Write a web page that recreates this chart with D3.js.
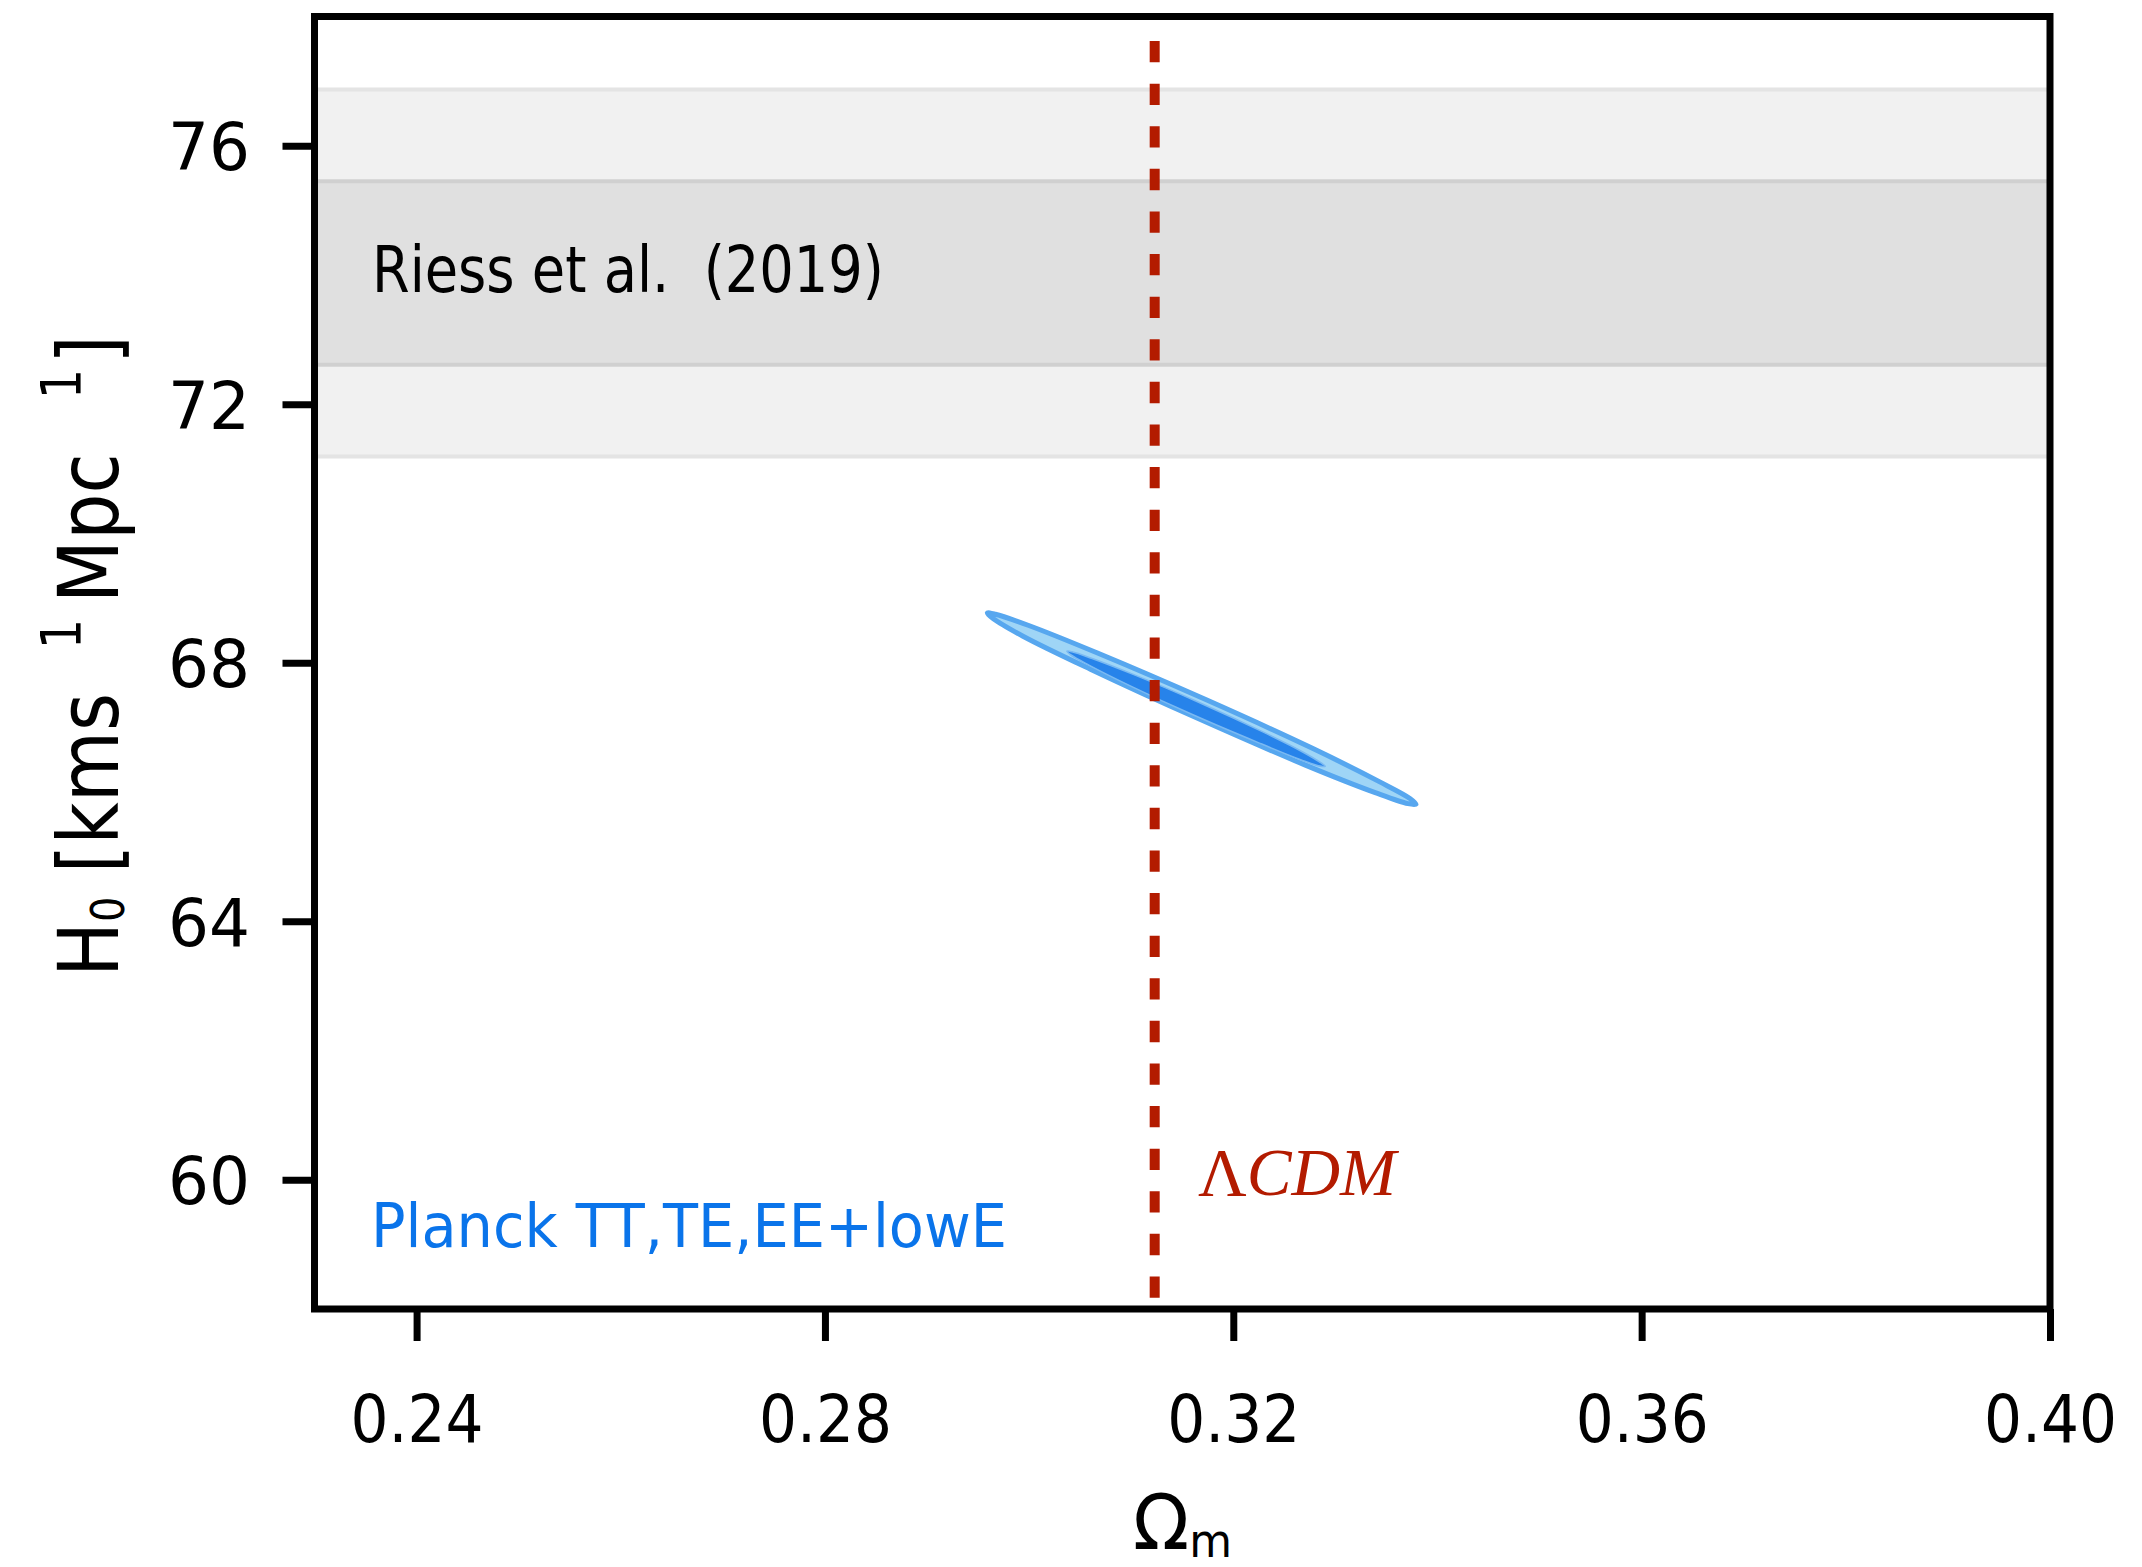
<!DOCTYPE html>
<html>
<head>
<meta charset="utf-8">
<script src="https://cdn.jsdelivr.net/npm/d3@7"></script>
<style>
  body { margin: 0; background: #fff; }
  svg { display: block; }
</style>
</head>
<body>
<svg id="chart" width="2142" height="1567"></svg>
<script>
// Axis ranges and tick values
const omegaDomain = [0.23, 0.40];
const h0Domain = [58, 78];
const omegaTicks = [0.24, 0.28, 0.32, 0.36, 0.40];
const h0Ticks = [60, 64, 68, 72, 76];

// Local distance-ladder measurement (mean and 1-sigma)
const riessMean = 74.03;
const riessSigma = 1.42;
const riessLabel = "Riess et al.  (2019)";

// CMB posterior contours in the (Ωm, H0) plane: 2-sigma (outer) and 1-sigma (inner) outlines
const planckOuterOmega = [0.3379, 0.3371, 0.3339, 0.3270, 0.3165, 0.3060, 0.2994, 0.2965,
                          0.2959, 0.2967, 0.2999, 0.3067, 0.3173, 0.3277, 0.3343, 0.3373];
const planckOuterH0    = [65.81, 65.82, 65.99, 66.42, 67.14, 67.90, 68.41, 68.68,
                          68.77, 68.75, 68.58, 68.15, 67.43, 66.68, 66.16, 65.90];
const planckInnerOmega = [0.3290, 0.3285, 0.3266, 0.3225, 0.3161, 0.3098, 0.3059, 0.3041,
                          0.3037, 0.3042, 0.3061, 0.3102, 0.3166, 0.3229, 0.3268, 0.3286];
const planckInnerH0    = [66.40, 66.40, 66.50, 66.76, 67.19, 67.65, 67.96, 68.12,
                          68.18, 68.17, 68.07, 67.82, 67.39, 66.93, 66.62, 66.45];
const planckLabel = "Planck TT,TE,EE+lowE";

// ΛCDM fiducial matter density
const lcdmOmega = 0.3123;
const lcdmH0Span = [77.62, 58.15];

// ---------------------------------------------------------------
const svg = d3.select("#chart");
const W = 2142, H = 1567;
const frame = { left: 314.5, right: 2050, top: 16.5, bottom: 1309 };
const FONT = "'DejaVu Sans', Verdana, sans-serif";

svg.append("rect").attr("width", W).attr("height", H).attr("fill", "#fff");

const x = d3.scaleLinear().domain(omegaDomain).range([frame.left, frame.right]);
const y = d3.scaleLinear().domain(h0Domain).range([frame.bottom, frame.top]);

svg.append("clipPath").attr("id", "plot-clip")
  .append("rect")
  .attr("x", frame.left).attr("y", frame.top)
  .attr("width", frame.right - frame.left).attr("height", frame.bottom - frame.top);

const plot = svg.append("g").attr("clip-path", "url(#plot-clip)");

// Shaded H0 bands: 2-sigma then 1-sigma
const bands = [
  { k: 2, fill: "#f1f1f1", edge: "#e4e4e4" },
  { k: 1, fill: "#e0e0e0", edge: "#d0d0d0" }
];
bands.forEach(b => {
  const hi = riessMean + b.k * riessSigma;
  const lo = riessMean - b.k * riessSigma;
  plot.append("rect")
    .attr("x", x(omegaDomain[0]))
    .attr("width", x(omegaDomain[1]) - x(omegaDomain[0]))
    .attr("y", y(hi))
    .attr("height", y(lo) - y(hi))
    .attr("fill", b.fill);
  [hi, lo].forEach(v => {
    plot.append("line")
      .attr("x1", x(omegaDomain[0])).attr("x2", x(omegaDomain[1]))
      .attr("y1", y(v)).attr("y2", y(v))
      .attr("stroke", b.edge).attr("stroke-width", 4);
  });
});

// Planck contours
const outline = d3.line()
  .x(d => x(d[0])).y(d => y(d[1]))
  .curve(d3.curveCatmullRomClosed.alpha(0.5));

const outerPts = planckOuterOmega.map((o, i) => [o, planckOuterH0[i]]);
const innerPts = planckInnerOmega.map((o, i) => [o, planckInnerH0[i]]);

plot.append("path").attr("d", outline(outerPts))
  .attr("fill", "#9fd5f6").attr("stroke", "#57a7ef").attr("stroke-width", 5)
  .attr("stroke-linejoin", "round");
plot.append("path").attr("d", outline(innerPts))
  .attr("fill", "#2783ea").attr("stroke", "#7ab9f2").attr("stroke-width", 1.6)
  .attr("stroke-linejoin", "round");

// ΛCDM vertical dashed line
plot.append("line")
  .attr("x1", x(lcdmOmega)).attr("x2", x(lcdmOmega))
  .attr("y1", y(lcdmH0Span[0])).attr("y2", y(lcdmH0Span[1]))
  .attr("stroke", "#b31b00").attr("stroke-width", 10)
  .attr("stroke-dasharray", "21.3 21.3");

// Annotations
svg.append("text")
  .attr("x", 372).attr("y", 292)
  .attr("font-family", FONT).attr("font-size", 64).attr("fill", "#000")
  .attr("textLength", 512).attr("lengthAdjust", "spacingAndGlyphs")
  .style("white-space", "pre")
  .text(riessLabel);

svg.append("text")
  .attr("x", 371).attr("y", 1247)
  .attr("font-family", FONT).attr("font-size", 60).attr("fill", "#0a74ea")
  .attr("textLength", 636).attr("lengthAdjust", "spacingAndGlyphs")
  .text(planckLabel);

const lcdm = svg.append("text")
  .attr("x", 1198).attr("y", 1195)
  .attr("font-family", "'Liberation Serif', 'Times New Roman', serif")
  .attr("font-size", 68).attr("fill", "#b31b00")
  .attr("textLength", 198).attr("lengthAdjust", "spacingAndGlyphs");
lcdm.append("tspan").attr("font-style", "normal").text("Λ");
lcdm.append("tspan").attr("font-style", "italic").text("CDM");

// Axes
const tickLen = 32;
const xAxis = svg.append("g")
  .attr("transform", `translate(0,${frame.bottom})`)
  .call(d3.axisBottom(x).tickValues(omegaTicks).tickSize(tickLen).tickFormat(d3.format(".2f")));
const yAxis = svg.append("g")
  .attr("transform", `translate(${frame.left},0)`)
  .call(d3.axisLeft(y).tickValues(h0Ticks).tickSize(tickLen).tickFormat(d3.format("d")));

[xAxis, yAxis].forEach(g => {
  g.select(".domain").remove();
  g.selectAll(".tick line").attr("stroke", "#000").attr("stroke-width", 7);
  g.selectAll(".tick text")
    .attr("font-family", FONT).attr("font-size", 66).attr("fill", "#000")
    .attr("lengthAdjust", "spacingAndGlyphs");
});
xAxis.selectAll(".tick text")
  .attr("dy", null).attr("y", 133)
  .attr("textLength", 133);
yAxis.selectAll(".tick text")
  .attr("dy", null).attr("y", 24).attr("x", -64.5)
  .attr("textLength", 82);

// Plot frame
svg.append("rect")
  .attr("x", frame.left).attr("y", frame.top)
  .attr("width", frame.right - frame.left).attr("height", frame.bottom - frame.top)
  .attr("fill", "none").attr("stroke", "#000").attr("stroke-width", 7);

// Axis titles
const xTitle = svg.append("text")
  .attr("font-family", FONT).attr("font-size", 77).attr("fill", "#000")
  .attr("text-anchor", "middle");
xTitle.append("tspan").text("Ω");
xTitle.append("tspan").attr("font-size", 46).attr("dy", 8).text("m");
{
  const w = xTitle.node().getBBox().width;
  xTitle.attr("transform", `translate(1182.5,1549) scale(${99 / w},1)`);
}

const yTitle = svg.append("text")
  .attr("font-family", FONT).attr("font-size", 84).attr("fill", "#000")
  .style("white-space", "pre");
yTitle.append("tspan").text("H");
yTitle.append("tspan").attr("font-size", 46).attr("dy", 6).text("0");
yTitle.append("tspan").attr("dy", -6).text(" [kms");
yTitle.append("tspan").attr("font-size", 55).attr("dx", 50).attr("dy", -38).text("1");
yTitle.append("tspan").attr("dx", 18).attr("dy", 38).text("Mpc");
yTitle.append("tspan").attr("font-size", 55).attr("dx", 62).attr("dy", -38).text("1");
yTitle.append("tspan").attr("dx", 6).attr("dy", 38).text("]");
{
  const w = yTitle.node().getBBox().width;
  yTitle.attr("transform", `translate(118,977) rotate(-90) scale(${642 / w},1)`);
}
</script>
</body>
</html>
